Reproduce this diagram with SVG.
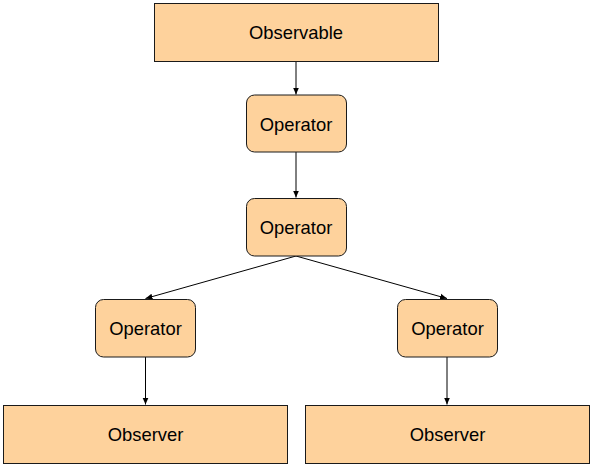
<svg xmlns="http://www.w3.org/2000/svg" width="593" height="467" viewBox="0 0 593 467">
<style>
.n{fill:#fed29c;stroke:#1a1a1a;stroke-width:1}
.t{font-family:"Liberation Sans",Arial,sans-serif;font-size:18.4px;fill:#000;text-anchor:middle;dominant-baseline:central}
.c{stroke:#000;stroke-width:1;fill:none;marker-end:url(#a)}
</style>
<defs>
<marker id="a" markerWidth="8" markerHeight="8" refX="7" refY="3" orient="auto" markerUnits="userSpaceOnUse" viewBox="0 0 8 6">
<path d="M0,0 L7,3 L0,6 Z" fill="#000"/>
</marker>
</defs>
<rect width="593" height="467" fill="#fff"/>
<g id="connectors">
<line class="c" x1="296" y1="61" x2="296" y2="94.5"/>
<line class="c" x1="296" y1="152" x2="296" y2="197.5"/>
<line class="c" x1="296" y1="256" x2="145.5" y2="298.5"/>
<line class="c" x1="296" y1="256" x2="447" y2="298.5"/>
<line class="c" x1="145.5" y1="357" x2="145.5" y2="404.5"/>
<line class="c" x1="447" y1="357" x2="447" y2="404.5"/>
</g>
<g id="observable"><rect class="n" x="154.5" y="3.5" width="284" height="58"/><text class="t" x="296" y="32">Observable</text></g>
<g id="op1"><rect class="n" x="246.5" y="95" width="100" height="57" rx="8"/><text class="t" x="296" y="124">Operator</text></g>
<g id="op2"><rect class="n" x="246.5" y="198.5" width="100" height="57.5" rx="8"/><text class="t" x="296" y="227">Operator</text></g>
<g id="op3"><rect class="n" x="95.5" y="299.5" width="100" height="57.5" rx="8"/><text class="t" x="145.5" y="328">Operator</text></g>
<g id="op4"><rect class="n" x="397.5" y="299.5" width="100" height="57.5" rx="8"/><text class="t" x="447.5" y="328">Operator</text></g>
<g id="obs1"><rect class="n" x="3.5" y="405.5" width="284" height="58"/><text class="t" x="145.5" y="434">Observer</text></g>
<g id="obs2"><rect class="n" x="305.5" y="405.5" width="284" height="58"/><text class="t" x="447.5" y="434">Observer</text></g>
</svg>
